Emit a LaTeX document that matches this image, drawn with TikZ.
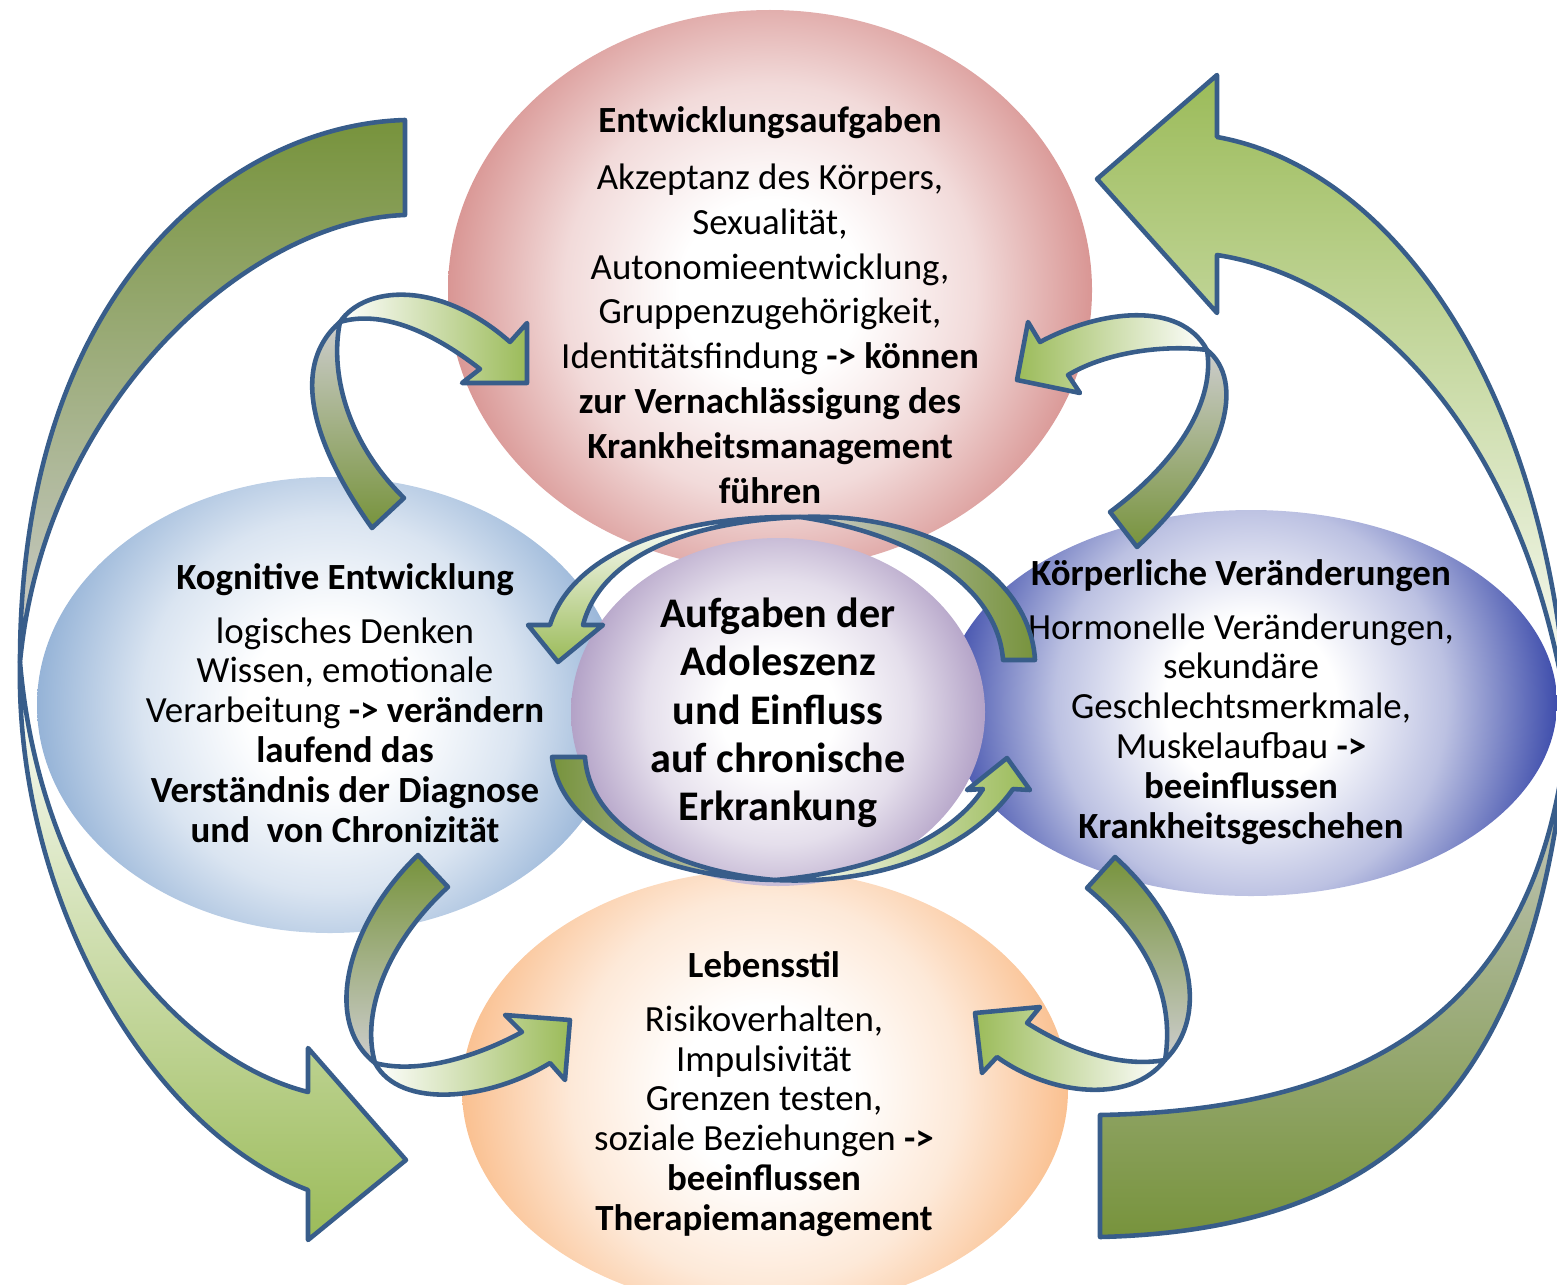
\documentclass[tikz,border=0pt]{standalone}
\usepackage{fontspec}
\setmainfont{Carlito}

\definecolor{rimblue}{RGB}{56,93,138}
\definecolor{olive}{RGB}{119,147,60}
\definecolor{leaf}{RGB}{155,187,89}
\definecolor{twistgray}{RGB}{205,205,205}
\definecolor{rose}{RGB}{217,150,148}
\definecolor{sky}{RGB}{149,179,215}
\definecolor{indigo}{RGB}{63,78,172}
\definecolor{apricot}{RGB}{250,192,144}
\definecolor{lilac}{RGB}{179,162,199}
\colorlet{bubblecol}{rose}
\pgfdeclareradialshading[bubblecol]{bubble}{\pgfpoint{0bp}{0bp}}{color(0bp)=(white); color(7bp)=(white); color(16bp)=(bubblecol!35!white); color(25bp)=(bubblecol); color(50bp)=(bubblecol)}

\begin{document}
\begin{tikzpicture}[x=0.02cm,y=-0.02cm,
  ribbon/.style={draw=rimblue,line width=2.6pt,line join=round},
  bubbletext/.style={align=center,font=\fontsize{21}{22.7}\selectfont}]
\useasboundingbox (0,0) rectangle (1557,1284);
\clip (0,0) rectangle (1557,1284);

% big outer ribbons (behind the bubbles)
\draw[ribbon,top color=olive,bottom color=twistgray] (405,120) .. controls (230,125) and (20,290) .. (20,662) .. controls (45,400) and (250,220) .. (405,215) -- cycle;
\draw[ribbon,top color=white,bottom color=leaf] (20,662) .. controls (15,900) and (150,1130) .. (308,1190) -- (308,1240) -- (406,1160) -- (308,1048) -- (308,1092) .. controls (180,1060) and (40,900) .. (20,662) -- cycle;
\draw[ribbon,top color=leaf,bottom color=white] (1217,137) -- (1217,75) -- (1097,179) -- (1217,313) -- (1217,255) .. controls (1380,280) and (1530,450) .. (1568,720) .. controls (1550,400) and (1400,170) .. (1217,137) -- cycle;
\draw[ribbon,top color=twistgray,bottom color=olive] (1568,720) .. controls (1540,1100) and (1380,1230) .. (1100,1237) -- (1100,1115) .. controls (1380,1110) and (1545,1000) .. (1568,720) -- cycle;

% bubbles
\begin{scope}
\clip (770,290) ellipse [x radius=322,y radius=280];
\colorlet{bubblecol}{rose}
\shade[shading=bubble] (770,290) circle [radius=322];
\end{scope}
\begin{scope}
\clip (330,705) ellipse [x radius=293,y radius=228];
\colorlet{bubblecol}{sky}
\shade[shading=bubble] (330,705) circle [radius=293];
\end{scope}
\begin{scope}
\clip (1251,703) ellipse [x radius=306,y radius=193];
\colorlet{bubblecol}{indigo}
\shade[shading=bubble] (1251,703) circle [radius=306];
\end{scope}
\begin{scope}
\clip (765,1090) ellipse [x radius=303,y radius=220];
\colorlet{bubblecol}{apricot}
\shade[shading=bubble] (765,1090) circle [radius=303];
\end{scope}
\begin{scope}
\clip (778,712) ellipse [x radius=207,y radius=174];
\colorlet{bubblecol}{lilac}
\shade[shading=bubble] (778,712) circle [radius=207];
\end{scope}

% texts
\node[align=center,font=\fontsize{21}{25.5}\selectfont] (tasks) at (770,305) {\textbf{Entwicklungsaufgaben}\\[7pt]
  Akzeptanz des Körpers,\\ Sexualität,\\ Autonomieentwicklung,\\ Gruppenzugehörigkeit,\\
  Identitätsfindung \textbf{-> können}\\ \textbf{zur Vernachlässigung des}\\
  \textbf{Krankheitsmanagement}\\ \textbf{führen}};
\node[bubbletext] (cognition) at (345,703) {\textbf{Kognitive Entwicklung}\\[8pt]
  logisches Denken\\ Wissen, emotionale\\ Verarbeitung \textbf{-> verändern}\\
  \textbf{laufend das}\\ \textbf{Verständnis der Diagnose}\\ \textbf{und~~von Chronizität}};
\node[bubbletext] (body) at (1241,702) {\textbf{Körperliche Veränderungen}\\[8pt]
  Hormonelle Veränderungen,\\ sekundäre\\ Geschlechtsmerkmale,\\ Muskelaufbau \textbf{->}\\
  \textbf{beeinflussen}\\ \textbf{Krankheitsgeschehen}};
\node[bubbletext] (lifestyle) at (764,1094) {\textbf{Lebensstil}\\[8pt]
  Risikoverhalten,\\ Impulsivität\\ Grenzen testen,\\ soziale Beziehungen \textbf{->}\\
  \textbf{beeinflussen}\\ \textbf{Therapiemanagement}};
\node[align=center,font=\bfseries\fontsize{24}{27.5}\selectfont] (core) at (778,713) {Aufgaben der\\ Adoleszenz\\ und Einfluss\\ auf chronische\\ Erkrankung};

% small hook arrows
\draw[ribbon,top color=twistgray,bottom color=olive] (372,528) .. controls (320,455) and (285,370) .. (340,322) .. controls (330,370) and (345,440) .. (404,498) -- cycle;
\draw[ribbon,left color=white,right color=leaf] (340,322) .. controls (365,285) and (440,280) .. (510,342) -- (527,323) -- (527,383) -- (462,383) -- (480,369) .. controls (430,330) and (380,310) .. (340,322) -- cycle;
\draw[ribbon,left color=leaf,right color=white] (1040,342) .. controls (1100,310) and (1180,300) .. (1207,350) .. controls (1170,345) and (1110,350) .. (1068,375) -- (1080,393) -- (1017,380) -- (1028,322) -- cycle;
\draw[ribbon,top color=twistgray,bottom color=olive] (1207,350) .. controls (1245,380) and (1230,460) .. (1137,547) -- (1110,512) .. controls (1180,460) and (1215,400) .. (1207,350) -- cycle;
\draw[ribbon,top color=olive,bottom color=twistgray] (418,855) .. controls (350,920) and (320,1020) .. (375,1063) .. controls (360,1010) and (390,940) .. (448,887) -- cycle;
\draw[ribbon,left color=white,right color=leaf] (375,1063) .. controls (420,1075) and (480,1055) .. (522,1032) -- (505,1015) -- (570,1020) -- (565,1080) -- (550,1063) .. controls (490,1100) and (400,1110) .. (375,1063) -- cycle;
\draw[ribbon,top color=olive,bottom color=twistgray] (1115,857) .. controls (1185,920) and (1215,1010) .. (1165,1060) .. controls (1175,1000) and (1150,940) .. (1087,888) -- cycle;
\draw[ribbon,left color=leaf,right color=white] (1165,1060) .. controls (1120,1068) and (1070,1050) .. (1027,1023) -- (1040,1007) -- (975,1013) -- (982,1073) -- (997,1057) .. controls (1050,1095) and (1130,1105) .. (1165,1060) -- cycle;

% arcs round the centre
\draw[ribbon,top color=white,bottom color=leaf] (800,517) .. controls (660,515) and (570,560) .. (550,625) -- (528,625) -- (558,662) -- (603,625) -- (583,625) .. controls (600,560) and (680,522) .. (800,517) -- cycle;
\draw[ribbon,left color=twistgray,right color=olive] (800,517) .. controls (930,512) and (1030,575) .. (1035,660) -- (1003,660) .. controls (998,590) and (920,535) .. (800,517) -- cycle;
\draw[ribbon,left color=olive,right color=twistgray] (552,757) .. controls (560,830) and (660,878) .. (775,880) .. controls (680,872) and (590,830) .. (585,757) -- cycle;
\draw[ribbon,left color=white,right color=leaf] (775,880) .. controls (880,885) and (970,850) .. (1013,789) -- (1030,790) -- (1007,758) -- (967,790) -- (983,789) .. controls (950,840) and (870,872) .. (775,880) -- cycle;
\end{tikzpicture}
\end{document}
